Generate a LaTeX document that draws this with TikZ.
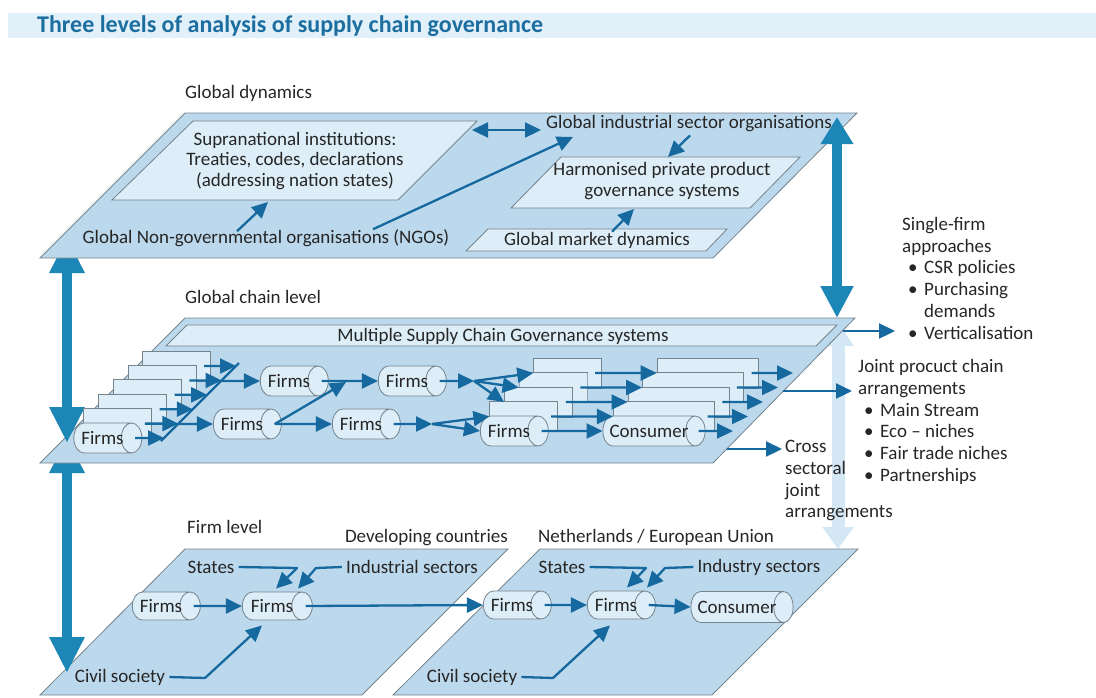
\documentclass[tikz,border=0pt]{standalone}
\usepackage{fontspec}
\setmainfont{Carlito}
\usetikzlibrary{arrows.meta,shapes.geometric,calc}
\definecolor{titlebg}{HTML}{E2F0F9}
\definecolor{titlefg}{HTML}{1B6E9F}
\definecolor{planeblue}{HTML}{BCD8EC}
\definecolor{innerblue}{HTML}{DDEEF8}
\definecolor{edgegray}{HTML}{75838D}
\definecolor{arrowblue}{HTML}{15699F}
\definecolor{bigblue}{HTML}{1C87B6}
\definecolor{paleblue}{HTML}{D3E7F4}
\definecolor{txt}{HTML}{262626}
\newcommand{\bitem}{\hspace*{6pt}\makebox[16pt][l]{\textbullet}}
\tikzset{
  plane/.style={fill=planeblue, draw=edgegray, line width=0.8pt},
  innerbox/.style={fill=innerblue, draw=edgegray, line width=0.8pt},
  lbl/.style={font=\fontsize{19}{21.8}\selectfont, text=txt, inner sep=0pt},
  cyl/.style={cylinder, shape aspect=1.55, draw=edgegray, line width=0.8pt,
    cylinder uses custom fill, cylinder body fill=innerblue, cylinder end fill=innerblue,
    minimum height=68pt, minimum width=30pt, inner ysep=0pt, inner xsep=-3pt,
    font=\fontsize{19}{21.8}\selectfont, text=txt},
  arr/.style={draw=arrowblue, line width=2.3pt, line join=round, -{Triangle[length=16pt,width=15pt]}},
  darr/.style={draw=arrowblue, line width=2.3pt, {Triangle[length=16pt,width=15pt]}-{Triangle[length=16pt,width=15pt]}},
  ln/.style={draw=arrowblue, line width=2.3pt},
  bigarr/.style={draw=bigblue, line width=10pt, {Triangle[length=36pt,width=33pt]}-{Triangle[length=36pt,width=33pt]}},
  palearr/.style={draw=paleblue, line width=13pt, {Triangle[length=24pt,width=30pt]}-{Triangle[length=22pt,width=30pt]}},
}
\begin{document}
\begin{tikzpicture}[x=1pt,y=-1pt]
\useasboundingbox (0,0) rectangle (1096,697);
% title
\fill[titlebg] (8,13) rectangle (1096,38);
\node[anchor=base west, inner sep=0pt, font=\fontsize{24}{26}\selectfont\bfseries, text=titlefg] (title) at (37,32) {Three levels of analysis of supply chain governance};

% pale arrow (behind)
\draw[palearr] (838,322) -- (838,549);

% bottom planes
\path[plane] (185,549) -- (508,549) -- (362,695) -- (40,695) -- cycle;
\path[plane] (540,549) -- (858,549) -- (712,695) -- (393,695) -- cycle;

% lower-left big arrow
\draw[bigarr] (67,437) -- (67,673);

% middle plane
\path[plane] (185,318) -- (855,318) -- (713,463) -- (40,463) -- cycle;

% upper-left big arrow
\draw[bigarr] (67,237) -- (67,443);

% top plane
\path[plane] (185,113) -- (857,113) -- (713,258) -- (40,258) -- cycle;

% right big arrow
\draw[draw=bigblue, line width=10pt, {Triangle[length=27pt,width=31pt]}-{Triangle[length=32pt,width=31pt]}] (837,117) -- (837,318);

% ---------- Global dynamics ----------
\node[lbl, anchor=base west] (gd) at (185,98) {Global dynamics};
\path[innerbox] (193,121) -- (477,121) -- (398,200) -- (112,200) -- cycle;
\node[lbl, align=center, font=\fontsize{19}{20.5}\selectfont] (sup) at (295,161) {Supranational institutions:\\Treaties, codes, declarations\\(addressing nation states)};
\path[innerbox] (561,157) -- (800,157) -- (750,208) -- (511,208) -- cycle;
\node[lbl, align=center] (harm) at (662,181) {Harmonised private product\\governance systems};
\path[innerbox] (488,229) -- (727,229) -- (706,251) -- (466,251) -- cycle;
\node[lbl] (gmd) at (597,240) {Global market dynamics};
\node[lbl] (gis) at (689,124) {Global industrial sector organisations};
\node[lbl] (ngo) at (266,238) {Global Non-governmental organisations (NGOs)};

\coordinate (supB) at (268,202);
\coordinate (supR) at (472,130);
\coordinate (gisL) at (541,130);
\coordinate (gisIn) at (573,137);
\coordinate (harmT) at (668,157);
\coordinate (harmB) at (634,209);
\draw[arr] ($(ngo.north)+(-29,2)$) -- (supB);
\draw[arr] ($(ngo.north)+(107,0)$) -- (gisIn);
\draw[darr] (supR) -- (gisL);
\draw[arr] ($(gis.south)+(1,3)$) -- (harmT);
\draw[arr] ($(gmd.north)+(15,0)$) -- (harmB);

% ---------- Global chain level ----------
\node[lbl, anchor=base west] (gcl) at (185,303) {Global chain level};
\path[innerbox] (187,325) -- (837,325) -- (816,346) -- (166,346) -- cycle;
\node[lbl] (mscg) at (503,336) {Multiple Supply Chain Governance systems};

% left stack
\node[cyl] (S6) at (176.5,366) {};
\node[cyl] (S5) at (161.7,380.4) {};
\node[cyl] (S4) at (146.9,394.8) {};
\node[cyl] (S3) at (132.1,409.2) {};
\node[cyl] (S2) at (117.3,423.6) {};
\node[cyl] (S1) at (102.5,438) {Firms};

\coordinate (cA) at (161,441);
\coordinate (cB) at (239,363);
\draw[ln] (cA) -- (cB);
\foreach \k in {1,...,6}{
  \draw[arr] ([xshift=-7pt]S\k.east) -- (intersection of cA--cB and S\k.west--S\k.east);
}

\node[cyl] (A) at (289,381) {Firms};
\node[cyl] (B) at (407,381) {Firms};
\node[cyl] (M1) at (242,424) {Firms};
\node[cyl] (M2) at (361,424) {Firms};

\draw[arr] (intersection of cA--cB and A.west--A.east) -- (A.west);
\draw[arr] (intersection of cA--cB and M1.west--M1.east) -- (M1.west);
\coordinate (jAB) at (346,382);
\draw[arr] ([xshift=-7pt]A.east) -- (B.west);
\draw[arr] ([xshift=-7pt]M1.east) -- (M2.west);
\draw[arr] ([xshift=-7pt]M1.east) -- (jAB);

% right stacks
\node[cyl] (F5) at (567.4,373) {};
\node[cyl] (F4) at (552.8,387.5) {};
\node[cyl] (F3) at (538.2,402) {};
\node[cyl] (F2) at (523.6,416.5) {};
\node[cyl] (F1) at (509,431) {Firms};
\node[cyl, minimum height=101pt] (C5) at (707.4,373) {};
\node[cyl, minimum height=101pt] (C4) at (692.8,387.5) {};
\node[cyl, minimum height=101pt] (C3) at (678.2,402) {};
\node[cyl, minimum height=101pt] (C2) at (663.6,416.5) {};
\node[cyl, minimum height=101pt] (C1) at (649,431) {Consumer};

\coordinate (J1) at (474,381);
\coordinate (J2) at (432,424);
\draw[arr] ([xshift=-7pt]B.east) -- (J1);
\draw[arr] ([xshift=-7pt]M2.east) -- (J2);
\draw[arr] (J1) -- (F5.west);
\draw[arr] (J1) -- (F4.west);
\draw[arr] (J1) -- (F3.west);
\draw[arr] (J2) -- (F2.west);
\draw[arr] (J2) -- (F1.west);

\foreach \k in {1,...,5}{
  \draw[arr] ([xshift=-7pt]F\k.east) -- (C\k.west);
}
\coordinate (e1) at (733,431);
\coordinate (e2) at (748,416.5);
\coordinate (e3) at (763,402);
\coordinate (e4) at (778,387.5);
\coordinate (e5) at (793,373);
\foreach \k in {1,...,5}{
  \draw[arr] ([xshift=-7pt]C\k.east) -- (e\k);
}

% right-side texts and arrows
\node[lbl, anchor=north west, align=left] (sfa) at (902,217) {Single-firm\\approaches\\\bitem CSR policies\\\bitem Purchasing\\\hspace*{22pt}demands\\\bitem Verticalisation};
\node[lbl, anchor=north west, align=left] (jpc) at (858,359) {Joint procuct chain\\arrangements\\\bitem Main Stream\\\bitem Eco -- niches\\\bitem Fair trade niches\\\bitem Partnerships};
\node[lbl, anchor=north west, align=left] (csj) at (785,440) {Cross\\sectoral\\joint\\arrangements};
\coordinate (sf0) at (843,331);
\coordinate (sf1) at (895,331);
\coordinate (jp0) at (783,391);
\coordinate (jp1) at (852,391);
\coordinate (cs0) at (727,449);
\coordinate (cs1) at (782,449);
\draw[arr] (sf0) -- (sf1);
\draw[arr] (jp0) -- (jp1);
\draw[arr] (cs0) -- (cs1);

% ---------- Firm level ----------
\node[lbl, anchor=base west] (fl) at (187,533) {Firm level};
\node[lbl, anchor=base east] (dc) at (508,542) {Developing countries};
\node[lbl, anchor=base west] (nl) at (538,542) {Netherlands / European Union};

\node[cyl, minimum width=28pt] (bf1) at (161,606) {Firms};
\node[cyl, minimum height=70pt, minimum width=28pt] (bf2) at (272,606) {Firms};
\node[cyl, minimum width=28pt] (bf3) at (512,605) {Firms};
\node[cyl, minimum width=28pt] (bf4) at (616,605) {Firms};
\node[cyl, minimum height=99pt, minimum width=31pt] (bcons) at (737,607) {Consumer};

\draw[arr] ([xshift=-7pt]bf1.east) -- (bf2.west);
\draw[arr] ([xshift=-7pt]bf2.east) -- (bf3.west);
\draw[arr] ([xshift=-7pt]bf3.east) -- (bf4.west);
\draw[arr] ([xshift=-7pt]bf4.east) -- (bcons.west);

\node[lbl] (stL) at (211,567) {States};
\node[lbl] (indL) at (412,567) {Industrial sectors};
\node[lbl] (cvL) at (120,677) {Civil society};
\node[lbl] (stR) at (562,567) {States};
\node[lbl] (indR) at (759,567) {Industry sectors};
\node[lbl] (cvR) at (472,677) {Civil society};

\draw[arr] ([xshift=4pt]stL.east) -- (297,568) -- ($(bf2.north)+(4,-3)$);
\draw[arr] ([xshift=-4pt]indL.west) -- (316,568) -- ($(bf2.north)+(26,-3)$);
\draw[arr] ([xshift=4pt]cvL.east) -- (205,678) -- ($(bf2.south)+(-10,5)$);
\draw[arr] ([xshift=4pt]stR.east) -- (646,568) -- ($(bf4.north)+(11,-3)$);
\draw[arr] ([xshift=-4pt]indR.west) -- (665,568) -- ($(bf4.north)+(31,-3)$);
\draw[arr] ([xshift=4pt]cvR.east) -- (553,678) -- ($(bf4.south)+(-6,6)$);
\end{tikzpicture}
\end{document}
